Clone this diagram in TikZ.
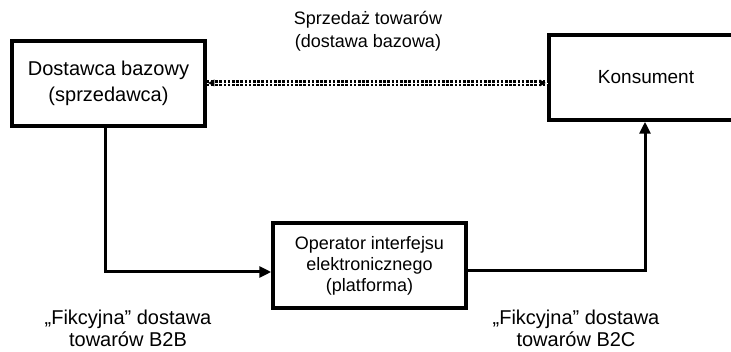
\documentclass[tikz,border=0pt]{standalone}
\usepackage{fontspec}
\setmainfont{Liberation Sans}
\usetikzlibrary{arrows.meta,calc}
\begin{document}
\begin{tikzpicture}[x=1pt,y=1pt,
		box/.style={draw,line width=3.5pt,minimum width=193pt,minimum height=85pt,align=center,inner sep=0pt},
		lbl/.style={align=center,font=\fontsize{20}{22}\selectfont},
		flow/.style={line width=3pt,-{Triangle[length=12pt,width=11pt]}}]
		\useasboundingbox (0,0) rectangle (731,352);
		\node[box,font=\fontsize{20}{26}\selectfont] (dostawca) at (108.5,268.5) {Dostawca bazowy\\(sprzedawca)};
		\node[box,minimum width=194pt,font=\fontsize{19}{23}\selectfont] (konsument) at (646,274.5) {Konsument};
		\node[box,font=\fontsize{18}{21}\selectfont] (operator) at (369.5,86.5) {Operator interfejsu\\elektronicznego\\(platforma)};
		\node[lbl,font=\fontsize{18}{23}\selectfont] (sprzedaz) at (368,320.5) {Sprzedaż towarów\\(dostawa bazowa)};
		\node[lbl] (fikcyjnaB2B) at (128,24) {„Fikcyjna” dostawa\\towarów B2B};
		\node[lbl] (fikcyjnaB2C) at (576,24) {„Fikcyjna” dostawa\\towarów B2C};
		\coordinate (zDost) at (105,0);
		\coordinate (naKons) at (645,0);
		\coordinate (linia) at (0,269);
		% sprzedaz bazowa
		\draw[line width=2.2pt,double,double distance=0.8pt,dash pattern=on 2.6pt off 1.6pt] (dostawca.east |- linia) -- (konsument.west |- linia);
		\foreach \k/\s in {dostawca.east/1,konsument.west/-1}
			\fill ($(\k |- linia)+(\s*1.5,0)$) -- ++(\s*6,3.5) -- ++(0,-7) -- cycle;
		% dostawy fikcyjne
		\draw[flow] (zDost |- dostawca.south) -- (zDost |- 0,80) -- (operator.west |- 0,80);
		\draw[flow] (operator.east |- 0,81) -- (naKons |- 0,81) -- (naKons |- konsument.south);
	\end{tikzpicture}
\end{document}
